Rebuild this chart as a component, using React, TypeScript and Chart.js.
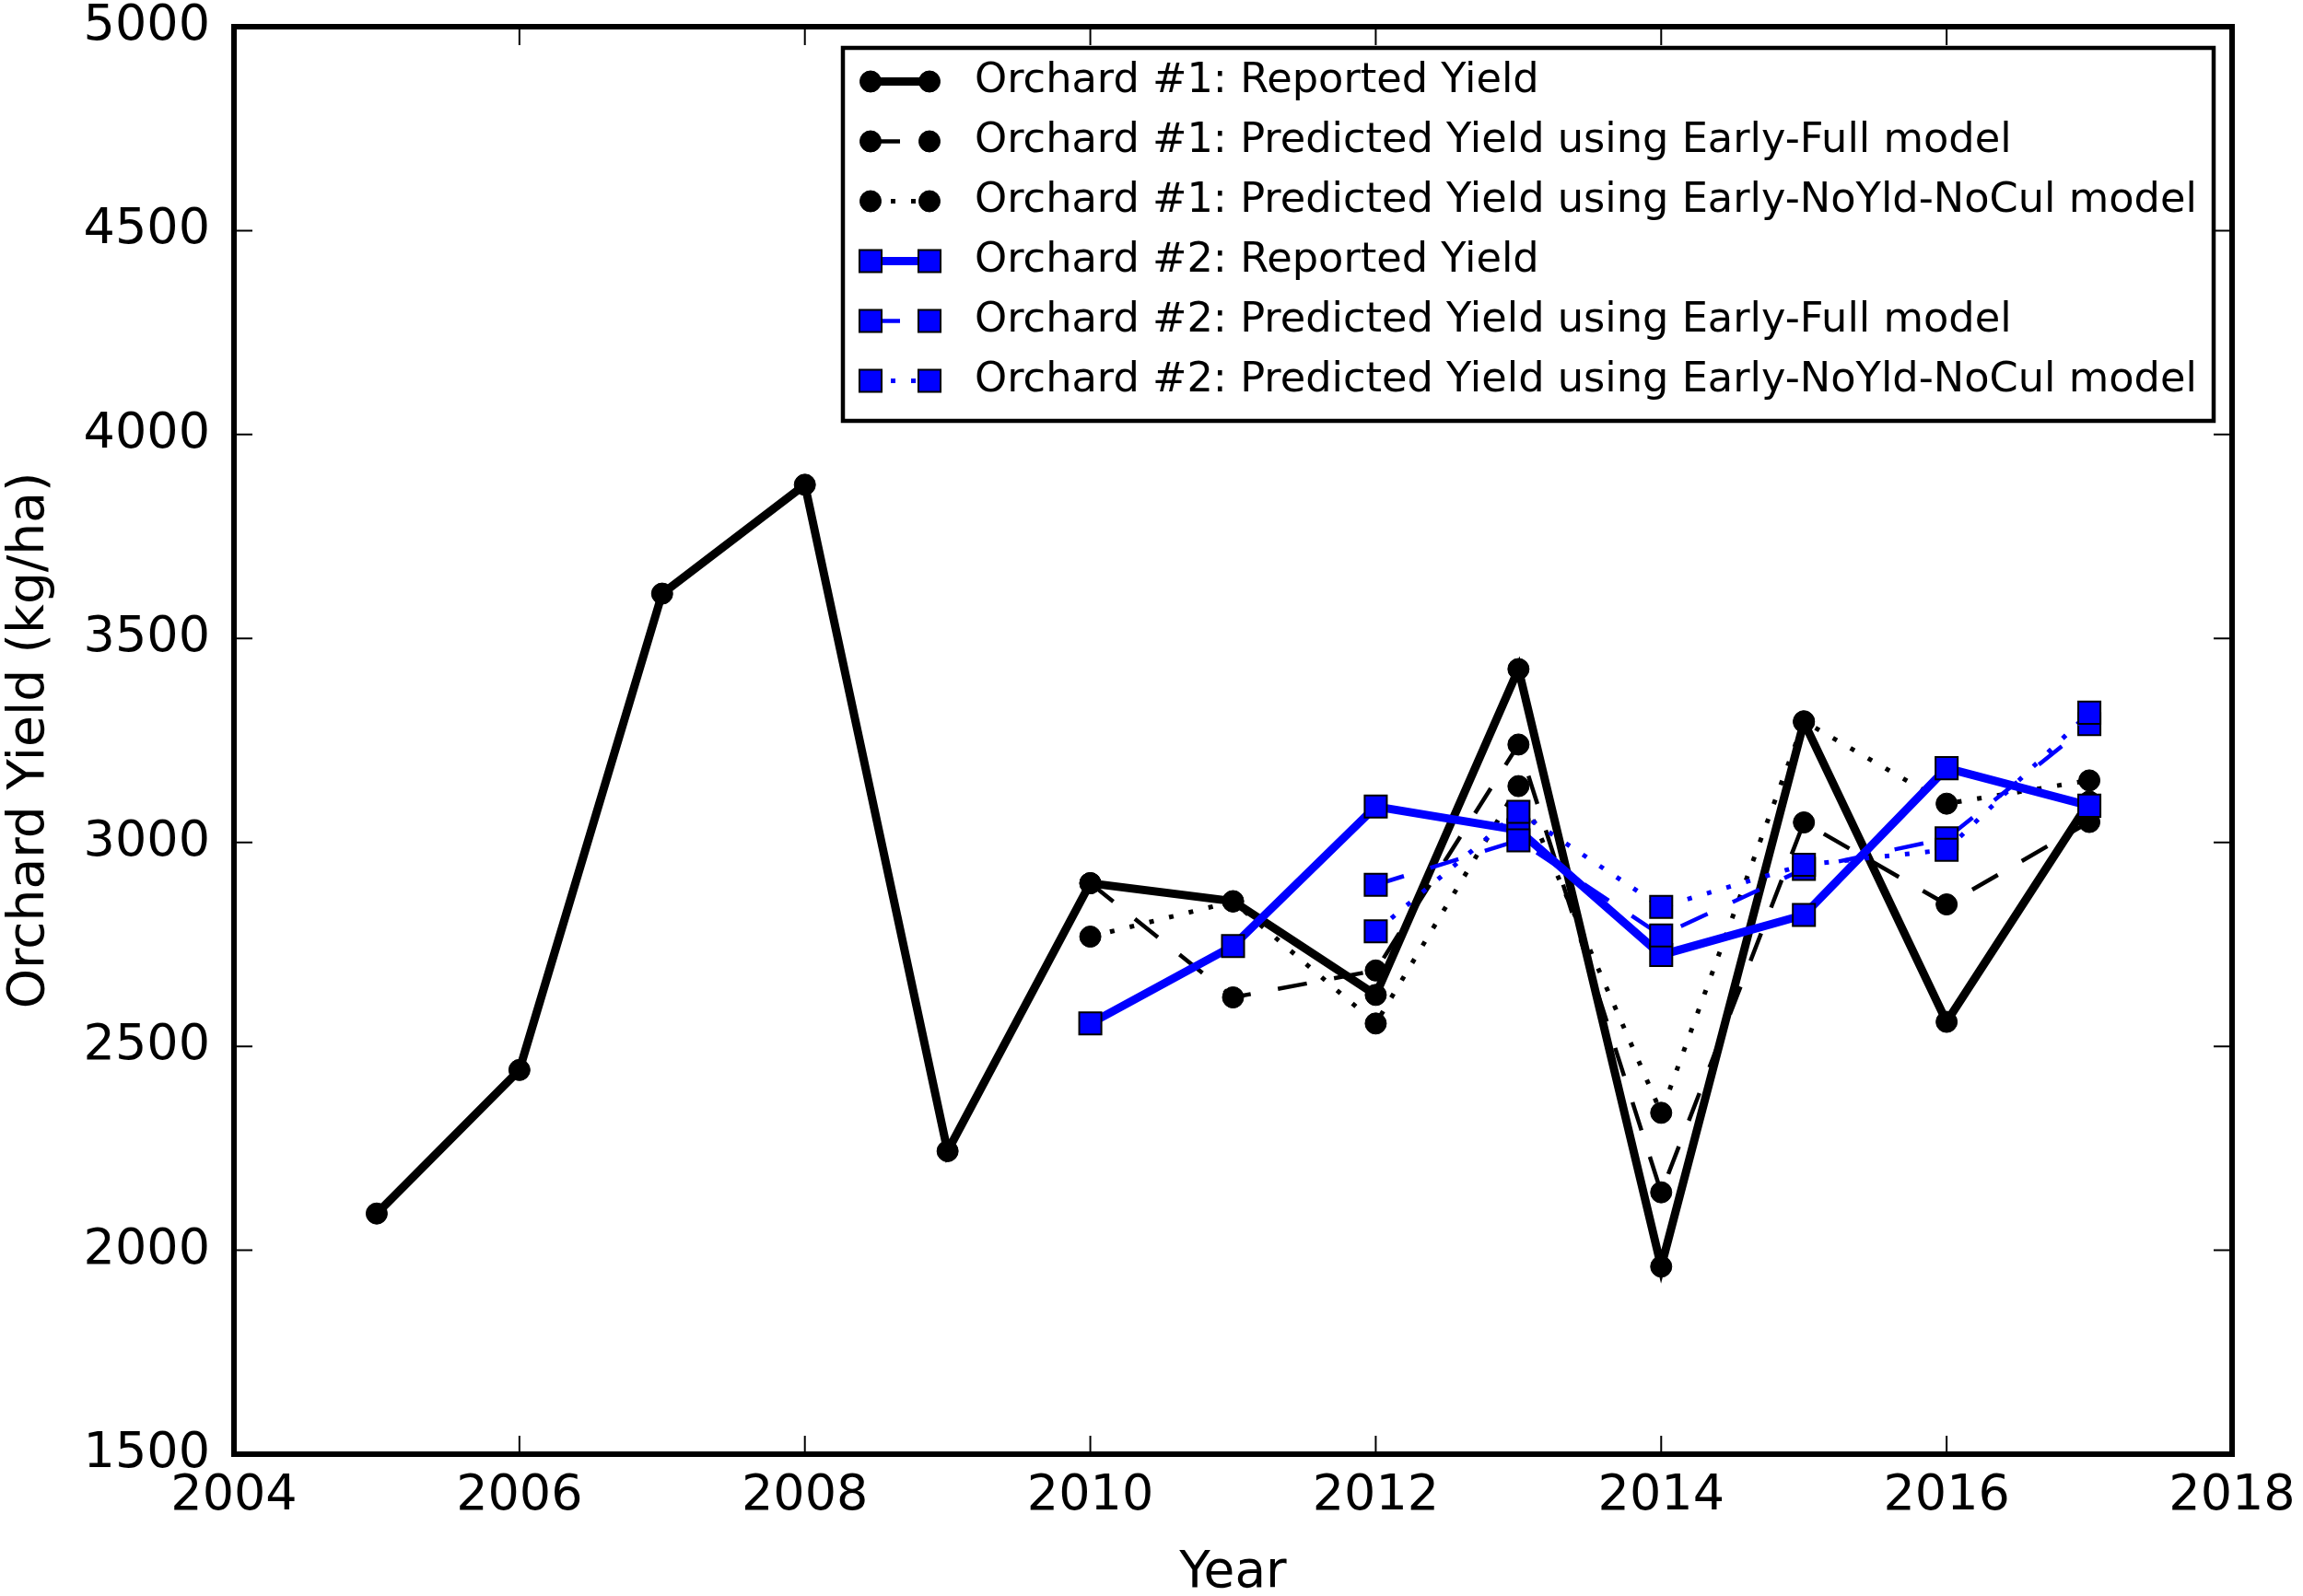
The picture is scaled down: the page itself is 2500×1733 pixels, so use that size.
import React, { useEffect, useRef } from "react";
import { Chart, registerables } from "chart.js";

Chart.register(...registerables);

// ---- data ----
const xTickValues = [2004, 2006, 2008, 2010, 2012, 2014, 2016, 2018];
const yTickValues = [1500, 2000, 2500, 3000, 3500, 4000, 4500, 5000];

const orchard1Years = [2005, 2006, 2007, 2008, 2009, 2010, 2011, 2012, 2013, 2014, 2015, 2016, 2017];
const orchard1Reported = [2090, 2442, 3610, 3877, 2243, 2900, 2856, 2626, 3425, 1960, 3295, 2560, 3100];

const orchard1PredYears = [2010, 2011, 2012, 2013, 2014, 2015, 2016, 2017];
const orchard1EarlyFull = [2900, 2620, 2686, 3240, 2142, 3049, 2848, 3050];
const orchard1NoYldNoCul = [2769, 2855, 2556, 3138, 2337, 3297, 3095, 3152];

const orchard2Years = [2010, 2011, 2012, 2013, 2014, 2015, 2016, 2017];
const orchard2Reported = [2556, 2746, 3088, 3030, 2724, 2822, 3182, 3090];

const orchard2PredYears = [2012, 2013, 2014, 2015, 2016, 2017];
const orchard2EarlyFull = [2896, 3005, 2772, 2935, 3010, 3290];
const orchard2NoYldNoCul = [2782, 3075, 2842, 2945, 2982, 3318];

const seriesLabels = [
  "Orchard #1: Reported Yield",
  "Orchard #1: Predicted Yield using Early-Full model",
  "Orchard #1: Predicted Yield using Early-NoYld-NoCul model",
  "Orchard #2: Reported Yield",
  "Orchard #2: Predicted Yield using Early-Full model",
  "Orchard #2: Predicted Yield using Early-NoYld-NoCul model",
];

const xTitle = "Year";
const yTitle = "Orchard Yield (kg/ha)";

// ---- styles ----
const FONT = "'DejaVu Sans', 'Liberation Sans', sans-serif";
const BLACK = "#000000";
const BLUE = "#0000ff";
const DASH = [32, 30];
const DOT = [5, 17];

const toPoints = (xs: number[], ys: number[]) => xs.map((x, i) => ({ x, y: ys[i] }));

function makeDataset(label: string, xs: number[], ys: number[], color: string, kind: "solid" | "dash" | "dot", marker: "circle" | "rect", order: number) {
  return {
    label,
    data: toPoints(xs, ys),
    borderColor: color,
    backgroundColor: color,
    borderWidth: kind === "solid" ? 9 : kind === "dash" ? 4.5 : 5,
    borderDash: kind === "solid" ? [] : kind === "dash" ? DASH : DOT,
    borderCapStyle: "butt",
    tension: 0,
    fill: false,
    pointStyle: marker,
    pointRadius: marker === "circle" ? 11.5 : 17,
    pointBackgroundColor: color,
    pointBorderColor: BLACK,
    pointBorderWidth: marker === "circle" ? 1 : 2,
    order,
  };
}

const framePlugin = {
  id: "frameTicksLegend",
  afterDraw(chart: any) {
    const { ctx, chartArea: a, scales } = chart;
    const xs = scales.x;
    const ys = scales.y;
    ctx.save();
    // inward ticks on all four sides
    ctx.strokeStyle = BLACK;
    ctx.lineWidth = 2;
    const tl = 20;
    ctx.beginPath();
    for (const t of xs.ticks) {
      const px = xs.getPixelForValue(t.value);
      ctx.moveTo(px, a.bottom);
      ctx.lineTo(px, a.bottom - tl);
      ctx.moveTo(px, a.top);
      ctx.lineTo(px, a.top + tl);
    }
    for (const t of ys.ticks) {
      const py = ys.getPixelForValue(t.value);
      ctx.moveTo(a.left, py);
      ctx.lineTo(a.left + tl, py);
      ctx.moveTo(a.right, py);
      ctx.lineTo(a.right - tl, py);
    }
    ctx.stroke();
    // frame
    ctx.lineWidth = 6;
    ctx.strokeRect(a.left, a.top, a.right - a.left, a.bottom - a.top);

    // legend
    const lx0 = 915, ly0 = 52, lx1 = 2403, ly1 = 457;
    ctx.fillStyle = "#ffffff";
    ctx.fillRect(lx0, ly0, lx1 - lx0, ly1 - ly0);
    ctx.lineWidth = 4.5;
    ctx.strokeStyle = BLACK;
    ctx.strokeRect(lx0, ly0, lx1 - lx0, ly1 - ly0);
    const rowY0 = 88.5;
    const rowStep = 65;
    const sx0 = 945, sx1 = 1009, textX = 1058;
    chart.data.datasets.forEach((ds: any, i: number) => {
      const y = rowY0 + i * rowStep;
      ctx.save();
      ctx.strokeStyle = ds.borderColor;
      ctx.lineWidth = ds.borderWidth;
      ctx.lineCap = "butt";
      ctx.setLineDash(ds.borderDash || []);
      ctx.beginPath();
      ctx.moveTo(sx0, y);
      ctx.lineTo(sx1, y);
      ctx.stroke();
      ctx.setLineDash([]);
      for (const mx of [sx0, sx1]) {
        ctx.fillStyle = ds.pointBackgroundColor;
        ctx.strokeStyle = ds.pointBorderColor;
        ctx.lineWidth = ds.pointBorderWidth;
        ctx.beginPath();
        if (ds.pointStyle === "circle") {
          ctx.arc(mx, y, ds.pointRadius, 0, Math.PI * 2);
        } else {
          const h = Math.SQRT1_2 * ds.pointRadius;
          ctx.rect(mx - h, y - h, 2 * h, 2 * h);
        }
        ctx.fill();
        ctx.stroke();
      }
      ctx.restore();
      ctx.fillStyle = BLACK;
      ctx.font = `44.7px ${FONT}`;
      ctx.textAlign = "left";
      ctx.textBaseline = "middle";
      ctx.fillText(ds.label, textX, y);
    });
    ctx.restore();
  },
};

export default function App() {
  const canvasRef = useRef<HTMLCanvasElement | null>(null);

  useEffect(() => {
    const canvas = canvasRef.current;
    if (!canvas) return;
    const datasets = [
      makeDataset(seriesLabels[0], orchard1Years, orchard1Reported, BLACK, "solid", "circle", 5),
      makeDataset(seriesLabels[1], orchard1PredYears, orchard1EarlyFull, BLACK, "dash", "circle", 4),
      makeDataset(seriesLabels[2], orchard1PredYears, orchard1NoYldNoCul, BLACK, "dot", "circle", 3),
      makeDataset(seriesLabels[3], orchard2Years, orchard2Reported, BLUE, "solid", "rect", 2),
      makeDataset(seriesLabels[4], orchard2PredYears, orchard2EarlyFull, BLUE, "dash", "rect", 1),
      makeDataset(seriesLabels[5], orchard2PredYears, orchard2NoYldNoCul, BLUE, "dot", "rect", 0),
    ];
    const chart = new Chart(canvas, {
      type: "line",
      data: { datasets } as any,
      options: {
        responsive: false,
        animation: false,
        devicePixelRatio: 1,
        events: [],
        layout: { padding: { top: 29, right: 77, left: 0, bottom: 0 } },
        plugins: { legend: { display: false }, tooltip: { enabled: false } },
        scales: {
          x: {
            type: "linear",
            min: xTickValues[0],
            max: xTickValues[xTickValues.length - 1],
            afterBuildTicks: (s: any) => {
              s.ticks = xTickValues.map((v) => ({ value: v }));
            },
            afterFit: (s: any) => {
              s.height = 154;
              s.paddingLeft = 0;
              s.paddingRight = 0;
            },
            grid: { display: false, drawTicks: false },
            border: { display: false },
            ticks: {
              color: BLACK,
              padding: 14,
              maxRotation: 0,
              autoSkip: false,
              font: { family: FONT, size: 54, lineHeight: 1.2 },
              callback: (v: any) => String(v),
            },
            title: {
              display: true,
              text: xTitle,
              color: BLACK,
              font: { family: FONT, size: 55, lineHeight: 0.9 },
              padding: 0,
            },
          },
          y: {
            type: "linear",
            min: yTickValues[0],
            max: yTickValues[yTickValues.length - 1],
            afterBuildTicks: (s: any) => {
              s.ticks = yTickValues.map((v) => ({ value: v }));
            },
            afterFit: (s: any) => {
              s.width = 254;
              s.paddingTop = 0;
              s.paddingBottom = 0;
            },
            grid: { display: false, drawTicks: false },
            border: { display: false },
            ticks: {
              color: BLACK,
              padding: 26,
              autoSkip: false,
              font: { family: FONT, size: 54, lineHeight: 1.2 },
              callback: (v: any) => String(v),
            },
            title: {
              display: true,
              text: yTitle,
              color: BLACK,
              font: { family: FONT, size: 55, lineHeight: 1.2 },
              padding: 0,
            },
          },
        },
      } as any,
      plugins: [framePlugin as any],
    });
    return () => chart.destroy();
  }, []);

  return (
    <div style={{ position: "absolute", left: 0, top: 0, width: 2500, height: 1733, background: "#ffffff" }}>
      <canvas ref={canvasRef} width={2500} height={1733} style={{ display: "block" }} />
    </div>
  );
}
